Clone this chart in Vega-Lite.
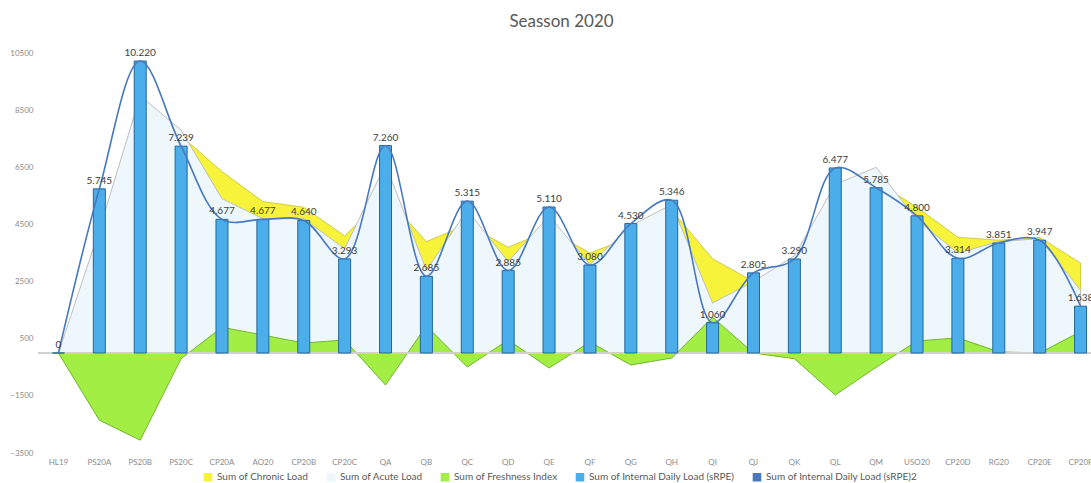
{
  "$schema": "https://vega.github.io/schema/vega-lite/v6.json",
  "width": 1053,
  "height": 400,
  "autosize": {"type": "none"},
  "padding": {"left": 38, "top": 53, "right": 0, "bottom": 30},
  "background": "white",
  "title": {"text": "Seasson 2020", "fontSize": 17, "font": "Lato", "fontWeight": "normal", "color": "#595959", "offset": 17, "dx": -3},
  "config": {
    "view": {"stroke": null},
    "font": "Lato",
    "locale": {"number": {"decimal": ",", "thousands": ".", "grouping": [3], "currency": ["", ""]}},
    "axisX": {"labelFontSize": 8, "labelColor": "#8c8c8c", "ticks": false, "domain": false, "labelPadding": 5, "labelAngle": 0, "grid": false, "labelFont": "Lato"},
    "axisY": {"labelFontSize": 8, "labelColor": "#8c8c8c", "ticks": false, "domain": false, "labelPadding": 5, "grid": false, "labelFont": "Lato"}
  },
  "data": {"values": [
    {"cat": "HL19", "load": 0, "acute": 0, "chronic": 0, "fresh": 0},
    {"cat": "PS20A", "load": 5745, "acute": 4300, "chronic": 1950, "fresh": -2350},
    {"cat": "PS20B", "load": 10220, "acute": 9000, "chronic": 5950, "fresh": -3050},
    {"cat": "PS20C", "load": 7239, "acute": 7800, "chronic": 7600, "fresh": -200},
    {"cat": "CP20A", "load": 4677, "acute": 5400, "chronic": 6350, "fresh": 900},
    {"cat": "AO20", "load": 4677, "acute": 4700, "chronic": 5300, "fresh": 630},
    {"cat": "CP20B", "load": 4640, "acute": 4700, "chronic": 5100, "fresh": 350},
    {"cat": "CP20C", "load": 3293, "acute": 3650, "chronic": 4100, "fresh": 455},
    {"cat": "QA", "load": 7260, "acute": 6600, "chronic": 5480, "fresh": -1120},
    {"cat": "QB", "load": 2685, "acute": 2900, "chronic": 3900, "fresh": 950},
    {"cat": "QC", "load": 5315, "acute": 5000, "chronic": 4500, "fresh": -490},
    {"cat": "QD", "load": 2885, "acute": 3200, "chronic": 3700, "fresh": 455},
    {"cat": "QE", "load": 5110, "acute": 4800, "chronic": 4300, "fresh": -525},
    {"cat": "QF", "load": 3080, "acute": 3100, "chronic": 3500, "fresh": 385},
    {"cat": "QG", "load": 4530, "acute": 4450, "chronic": 4050, "fresh": -420},
    {"cat": "QH", "load": 5346, "acute": 5200, "chronic": 5000, "fresh": -175},
    {"cat": "QI", "load": 1060, "acute": 1750, "chronic": 3300, "fresh": 1250},
    {"cat": "QJ", "load": 2805, "acute": 2500, "chronic": 2500, "fresh": 0},
    {"cat": "QK", "load": 3290, "acute": 3400, "chronic": 3200, "fresh": -200},
    {"cat": "QL", "load": 6477, "acute": 5900, "chronic": 4430, "fresh": -1470},
    {"cat": "QM", "load": 5785, "acute": 6500, "chronic": 6000, "fresh": -500},
    {"cat": "USO20", "load": 4800, "acute": 4650, "chronic": 5100, "fresh": 420},
    {"cat": "CP20D", "load": 3314, "acute": 3500, "chronic": 4050, "fresh": 530},
    {"cat": "RG20", "load": 3851, "acute": 3900, "chronic": 3950, "fresh": 40},
    {"cat": "CP20E", "load": 3947, "acute": 4000, "chronic": 4050, "fresh": 0},
    {"cat": "CP20F", "load": 1638, "acute": 2200, "chronic": 3150, "fresh": 750}
  ]},
  "layer": [
    {
      "mark": {"type": "area", "stroke": "#C8C030", "strokeWidth": 0.8},
      "encoding": {
        "x": {"field": "cat", "type": "nominal", "sort": null, "bandPosition": 0.5, "scale": {"paddingInner": 0, "paddingOuter": 0, "range": [0, 1063]}, "title": null},
        "y": {"field": "chronic", "type": "quantitative", "scale": {"domain": [-3500, 10500], "nice": false, "zero": false}, "axis": {"values": [-3500, -1500, 500, 2500, 4500, 6500, 8500, 10500], "format": "d"}, "title": null},
        "color": {
          "datum": "Sum of Chronic Load",
          "type": "nominal",
          "scale": {
            "domain": ["Sum of Chronic Load", "Sum of Acute Load", "Sum of Freshness Index", "Sum of Internal Daily Load (sRPE)", "Sum of Internal Daily Load (sRPE)2"],
            "range": ["#F7F23A", "#EEF7FC", "#A2EE45", "#4BAEEA", "#4878BE"]
          },
          "legend": {
            "orient": "none", "legendX": 165, "legendY": 419, "direction": "horizontal", "title": null,
            "labelFontSize": 10, "labelColor": "#595959", "labelFont": "Lato", "symbolSize": 50, "columnPadding": 15,
            "symbolType": "square", "symbolOpacity": 1,
            "encode": {"symbols": {
              "enter": {
                "shape": {"signal": "datum.value === 'Sum of Internal Daily Load (sRPE)2' ? 'stroke' : 'square'"}
              },
              "update": {
                "shape": {"signal": "datum.value === 'Sum of Internal Daily Load (sRPE)2' ? 'stroke' : 'square'"},
                "stroke": {"signal": "datum.value === 'Sum of Acute Load' ? '#BFBFBF' : datum.value === 'Sum of Internal Daily Load (sRPE)' ? '#23679A' : datum.value === 'Sum of Internal Daily Load (sRPE)2' ? '#4878BE' : datum.value === 'Sum of Chronic Load' ? '#C8C030' : '#75B530'"},
                "strokeWidth": {"signal": "datum.value === 'Sum of Internal Daily Load (sRPE)2' ? 2 : 1"}
              }
            }}
          }
        }
      }
    },
    {
      "mark": {"type": "area", "stroke": "#BFBFBF", "strokeWidth": 1},
      "encoding": {
        "x": {"field": "cat", "type": "nominal", "sort": null, "bandPosition": 0.5, "title": null},
        "y": {"field": "acute", "type": "quantitative", "title": null},
        "color": {"datum": "Sum of Acute Load", "type": "nominal"}
      }
    },
    {
      "mark": {"type": "area", "stroke": "#75B530", "strokeWidth": 1},
      "encoding": {
        "x": {"field": "cat", "type": "nominal", "sort": null, "bandPosition": 0.5, "title": null},
        "y": {"field": "fresh", "type": "quantitative", "title": null},
        "color": {"datum": "Sum of Freshness Index", "type": "nominal"}
      }
    },
    {
      "mark": {"type": "rule", "color": "#D0D0D0", "strokeWidth": 1},
      "encoding": {"y": {"datum": 0, "type": "quantitative"}}
    },
    {
      "mark": {"type": "bar", "size": 12, "stroke": "#23679A", "strokeWidth": 1},
      "encoding": {
        "x": {"field": "cat", "type": "nominal", "sort": null, "title": null},
        "y": {"field": "load", "type": "quantitative", "title": null},
        "color": {"datum": "Sum of Internal Daily Load (sRPE)", "type": "nominal"}
      }
    },
    {
      "mark": {"type": "line", "interpolate": "catmull-rom", "strokeWidth": 1.6},
      "encoding": {
        "x": {"field": "cat", "type": "nominal", "sort": null, "bandPosition": 0.5, "title": null},
        "y": {"field": "load", "type": "quantitative", "title": null},
        "color": {"datum": "Sum of Internal Daily Load (sRPE)2", "type": "nominal"}
      }
    },
    {
      "mark": {"type": "text", "dy": -8, "fontSize": 10, "color": "#404040", "font": "Lato"},
      "encoding": {
        "x": {"field": "cat", "type": "nominal", "sort": null, "bandPosition": 0.5, "title": null},
        "y": {"field": "load", "type": "quantitative", "title": null},
        "text": {"field": "load", "type": "quantitative", "format": ",d"}
      }
    }
  ]
}
